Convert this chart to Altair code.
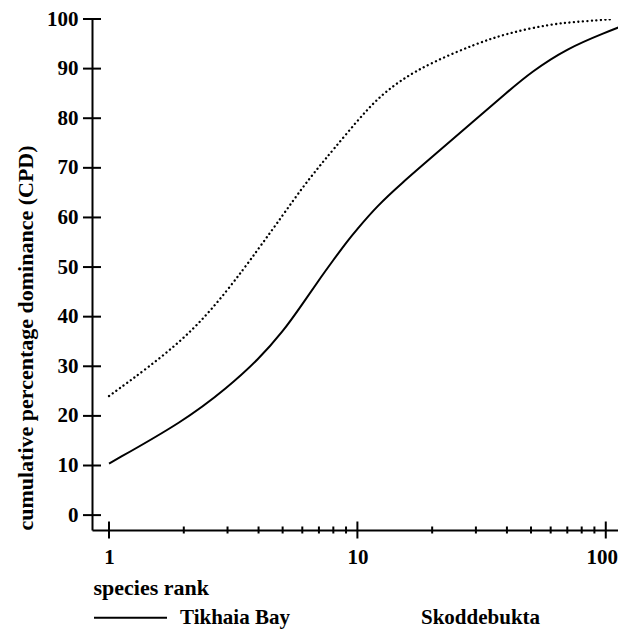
import altair as alt
import pandas as pd

# ---- data ----
series_names = ["Tikhaia Bay", "Skoddebukta"]

ranks_tikhaia = [1, 2, 3, 4, 5, 6, 7, 8, 9, 10, 12, 15, 20, 30, 40, 50, 70, 100, 118]
cpd_tikhaia = [10.4, 18.9, 25.7, 31.4, 36.9, 42.5, 47.4, 51.4, 54.9, 57.7, 62.3,
               66.8, 72.2, 79.8, 85.2, 89.3, 94.1, 97.3, 98.7]

ranks_skodde = [1, 2, 3, 4, 5, 6, 7, 8, 10, 12, 15, 20, 30, 40, 60, 80, 108]
cpd_skodde = [24.0, 35.0, 45.2, 53.7, 60.4, 66.0, 70.2, 73.7, 79.5, 83.9, 87.8,
              91.3, 95.0, 97.1, 99.0, 99.5, 100.0]

y_tick_values = [0, 10, 20, 30, 40, 50, 60, 70, 80, 90, 100]
x_label_values = [1, 10, 100]
x_minor_values = [2, 3, 4, 5, 6, 7, 8, 9, 20, 30, 40, 50, 60, 70, 80, 90]

X_DOMAIN = [0.854, 112.0]
Y_DOMAIN = [-3, 100]

FONT = "Liberation Serif"

df_tb = pd.DataFrame({"rank": ranks_tikhaia, "cpd": cpd_tikhaia, "series": series_names[0]})
df_sk = pd.DataFrame({"rank": ranks_skodde, "cpd": cpd_skodde, "series": series_names[1]})
df_yt = pd.DataFrame({"v": y_tick_values})
df_xmaj = pd.DataFrame({"v": x_label_values})
df_xmin = pd.DataFrame({"v": x_minor_values})

xscale = alt.Scale(type="log", domain=X_DOMAIN, nice=False, zero=False)
yscale = alt.Scale(domain=Y_DOMAIN, nice=False, zero=False)

xaxis = alt.Axis(
    values=x_label_values, ticks=False, grid=False, domain=True,
    domainColor="black", domainWidth=2, format="d",
    labelFont=FONT, labelFontSize=21, labelFontWeight="bold", labelColor="black",
    labelBaseline="alphabetic", labelPadding=33, labelFlush=False, labelOverlap=False,
    labelOffset={"condition": {"test": "datum.value >= 100", "value": -4}, "value": 0},
    title="species rank", titleFont=FONT, titleFontSize=22, titleFontWeight="bold",
    titleColor="black", titleX=1, titleY=64, titleAlign="left", titleBaseline="alphabetic",
)
yaxis = alt.Axis(
    values=y_tick_values, ticks=False, grid=False, domain=True,
    domainColor="black", domainWidth=2,
    labelFont=FONT, labelFontSize=21, labelFontWeight="bold", labelColor="black",
    labelPadding=14, labelOverlap=False,
    title="cumulative percentage dominance (CPD)", titleFont=FONT, titleFontSize=22,
    titleFontWeight="bold", titleColor="black", titleX=-60, titleY=318.5,
    titleAlign="center", titleBaseline="alphabetic", titleAngle=270,
)

legend = alt.Legend(
    orient="none", legendX=1, legendY=561, direction="horizontal", title=None,
    symbolType="stroke", symbolSize=5329, symbolStrokeWidth=2,
    labelFont=FONT, labelFontSize=21, labelFontWeight="bold", labelColor="black",
    labelOffset=12, columnPadding=41, padding=0,
)

tikhaia = alt.Chart(df_tb).mark_line(strokeWidth=2, interpolate="basis", clip=True).encode(
    x=alt.X("rank:Q", scale=xscale, axis=xaxis),
    y=alt.Y("cpd:Q", scale=yscale, axis=yaxis),
    color=alt.Color("series:N",
                    scale=alt.Scale(domain=series_names, range=["black", "rgba(0,0,0,0)"]),
                    legend=legend),
)

skodde = alt.Chart(df_sk).mark_line(
    strokeWidth=2.3, strokeDash=[0.1, 4.4], strokeCap="round",
    interpolate="basis", color="black", clip=True,
).encode(
    x=alt.X("rank:Q"),
    y=alt.Y("cpd:Q"),
)

y_ticks = alt.Chart(df_yt).mark_tick(
    orient="horizontal", size=18, thickness=2, opacity=1, color="black"
).encode(
    y=alt.Y("v:Q"),
    x=alt.datum(X_DOMAIN[0]),
)

x_major = alt.Chart(df_xmaj).mark_tick(
    orient="vertical", size=17, thickness=2, opacity=1, color="black"
).encode(
    x=alt.X("v:Q"),
    y=alt.datum(Y_DOMAIN[0]),
)

x_minor = alt.Chart(df_xmin).mark_tick(
    orient="vertical", size=7, thickness=2, opacity=1, color="black"
).encode(
    x=alt.X("v:Q"),
    y=alt.datum(Y_DOMAIN[0]),
)

chart = alt.layer(tikhaia, skodde, y_ticks, x_major, x_minor).properties(
    width=526,
    height=511,
    autosize=alt.AutoSizeParams(type="none"),
    padding={"left": 84, "top": 11, "right": 0, "bottom": 99},
    background="white",
).configure_view(stroke=None)

chart.save("out.html", embed_options={"renderer": "svg", "actions": False})
